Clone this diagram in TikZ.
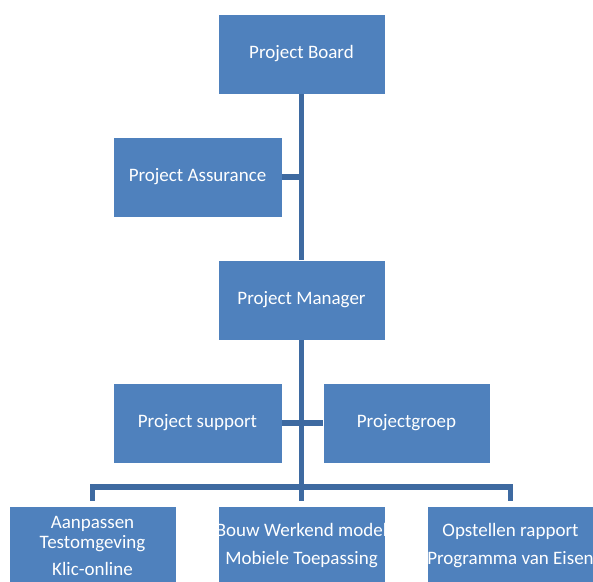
\documentclass[tikz,border=0pt]{standalone}
\usepackage{fontspec}
\setmainfont{Carlito}
\usetikzlibrary{calc}
\definecolor{boxblue}{HTML}{4F81BD}
\definecolor{linkblue}{RGB}{62,106,161}
\newcommand{\wide}[1]{\makebox[0pt]{#1}}
\begin{document}
\begin{tikzpicture}[x=1pt,y=-1pt,
  orgbox/.style={rectangle, fill=boxblue, draw=white, line width=0.6pt,
    minimum width=167pt, minimum height=80pt, inner sep=0pt,
    text=white, align=center, font=\fontsize{19}{20}\selectfont},
  conn/.style={draw=linkblue, line width=5.5pt}]
\useasboundingbox (0,0) rectangle (593,581);
\begin{scope}
\clip (0,0) rectangle (593,581);
% management levels
\node[orgbox] (board)   at (301.5,54)  {Project Board};
\node[orgbox, minimum width=169pt] (assure) at (197.5,177) {Project Assurance};
\node[orgbox] (manager) at (301.5,300) {Project Manager};
\node[orgbox, minimum width=169pt] (support) at (197.5,423) {Project support};
\node[orgbox] (groep)   at (406.5,423) {Projectgroep};
% work packages
\node[orgbox] (wp1) at (92.5,546)  {\wide{Aanpassen}\\\wide{Testomgeving}\\[7pt]\wide{Klic-online}};
\node[orgbox] (wp2) at (301.5,546) {\wide{Bouw Werkend model}\\[8pt]\wide{Mobiele Toepassing}};
\node[orgbox] (wp3) at (510.5,546) {\wide{Opstellen rapport}\\[8pt]\wide{Programma van Eisen}};
\coordinate (bar) at (301.5,487);
% reporting lines
\draw[conn] (board.south) -- (manager.north);
\draw[conn] (assure.east) -- (assure.east -| board.south);
\draw[conn] (support.east) -- (groep.west);
\draw[conn] (manager.south) -- (bar);
\draw[conn] ($(wp1.north)+(0,-5)$) -- (wp1.north |- bar) -- (wp3.north |- bar) -- ($(wp3.north)+(0,-5)$);
\draw[conn] (bar) -- ($(wp2.north)+(0,-5)$);
\end{scope}
\end{tikzpicture}
\end{document}
